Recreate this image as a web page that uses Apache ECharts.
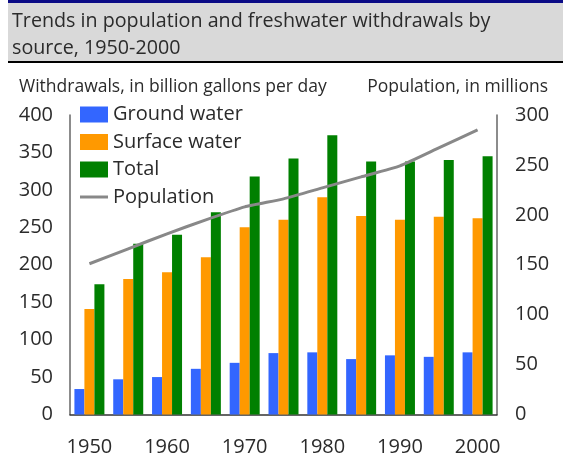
<!DOCTYPE html>
<html>
<head>
<meta charset="utf-8">
<script src="https://cdn.jsdelivr.net/npm/echarts@6/dist/echarts.min.js"></script>
<style>
  html, body { margin: 0; padding: 0; background: #fff; }
  #chart { width: 568px; height: 459px; }
</style>
</head>
<body>
<div id="chart"></div>
<script>
// Freshwater withdrawals (billion gallons per day) and US population (millions)
const years = ['1950', '1955', '1960', '1965', '1970', '1975', '1980', '1985', '1990', '1995', '2000'];
const groundWater = [34, 47, 50, 61, 69, 82, 83, 74, 79, 77, 83];
const surfaceWater = [141, 181, 190, 210, 250, 260, 290, 265, 260, 264, 262];
const totalWithdrawals = [174, 228, 240, 270, 318, 342, 373, 338, 338, 340, 345];
const population = [151, 166, 181, 195, 208, 216, 227, 238, 249, 267, 285];
const leftTicks = [0, 400, 50];   // min, max, step
const rightTicks = [0, 300, 50];

const FONT = '"Open Sans", "Noto Sans", sans-serif';
const TXT = '#2b2b2b';

// flat bar used as the legend swatch for the population line
const LINE_ICON = 'path://M0,0 M0,16 M0,6.5 L28,6.5 L28,9.5 L0,9.5 Z';

const chart = echarts.init(document.getElementById('chart'), null, { renderer: 'canvas' });

chart.setOption({
  animation: false,
  textStyle: { fontFamily: FONT, color: TXT },
  graphic: [
    { type: 'rect', shape: { x: 8, y: 0, width: 555, height: 62 }, style: { fill: '#d9d9d9' }, z: 0 },
    { type: 'rect', shape: { x: 8, y: 0, width: 555, height: 3 }, style: { fill: '#0b0b86' }, z: 1 },
    { type: 'rect', shape: { x: 8, y: 61, width: 555, height: 2 }, style: { fill: '#000' }, z: 1 },
    {
      type: 'text', left: 12, top: 8, z: 2,
      style: {
        text: 'Trends in population and freshwater withdrawals by\nsource, 1950-2000',
        font: '19.7px ' + FONT, fill: TXT, lineHeight: 27
      }
    },
    {
      type: 'text', left: 19, top: 78, z: 2,
      style: { text: 'Withdrawals, in billion gallons per day', font: '17.5px ' + FONT, fill: TXT }
    },
    {
      type: 'text', right: 20, top: 78, z: 2,
      style: { text: 'Population, in millions', font: '17.5px ' + FONT, fill: TXT }
    }
  ],
  legend: {
    orient: 'vertical',
    left: 80,
    top: 104.5,
    padding: 0,
    itemWidth: 28,
    itemHeight: 16,
    itemGap: 7.5,
    textStyle: { fontSize: 20, color: TXT, fontFamily: FONT },
    data: [
      { name: 'Ground water', icon: 'rect' },
      { name: 'Surface water', icon: 'rect' },
      { name: 'Total', icon: 'rect' },
      { name: 'Population', icon: LINE_ICON, itemStyle: { color: '#888888' } }
    ]
  },
  grid: { left: 70, right: 71, top: 115, bottom: 44.5 },
  xAxis: {
    type: 'category',
    data: years,
    axisLine: { lineStyle: { color: '#333', width: 1.5 } },
    axisTick: { show: false },
    axisLabel: { interval: 1, fontSize: 20, color: TXT, margin: 23, fontFamily: FONT }
  },
  yAxis: [
    {
      type: 'value', min: leftTicks[0], max: leftTicks[1], interval: leftTicks[2],
      axisLine: { show: true, lineStyle: { color: '#666', width: 1.5 } },
      axisTick: { show: false },
      splitLine: { show: false },
      axisLabel: { fontSize: 20, color: TXT, margin: 17, fontFamily: FONT }
    },
    {
      type: 'value', min: rightTicks[0], max: rightTicks[1], interval: rightTicks[2],
      position: 'right',
      axisLine: { show: true, lineStyle: { color: '#666', width: 1.5 } },
      axisTick: { show: false },
      splitLine: { show: false },
      axisLabel: { fontSize: 20, color: TXT, margin: 18, fontFamily: FONT }
    }
  ],
  series: [
    {
      name: 'Ground water', type: 'bar', yAxisIndex: 0, data: groundWater,
      barWidth: 10, barGap: '0%', itemStyle: { color: '#3366ff' }
    },
    {
      name: 'Surface water', type: 'bar', yAxisIndex: 0, data: surfaceWater,
      barWidth: 10, barGap: '0%', itemStyle: { color: '#ff9900' }
    },
    {
      name: 'Total', type: 'bar', yAxisIndex: 0, data: totalWithdrawals,
      barWidth: 10, barGap: '0%', itemStyle: { color: '#008000' }
    },
    {
      name: 'Population', type: 'line', yAxisIndex: 1, data: population,
      symbol: 'none', smooth: 0.15,
      lineStyle: { color: '#888888', width: 3 },
      itemStyle: { color: '#888888' },
      z: 5
    }
  ]
});
</script>
</body>
</html>
